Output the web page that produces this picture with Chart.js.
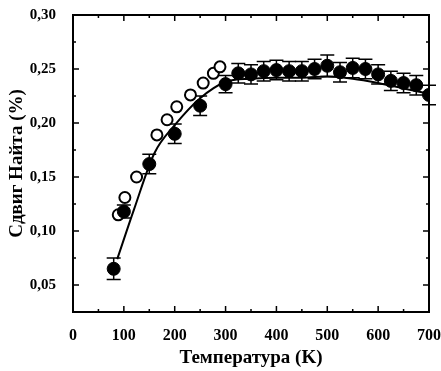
<!DOCTYPE html>
<html>
<head>
<meta charset="utf-8">
<script src="https://cdn.jsdelivr.net/npm/chart.js@4.4.0/dist/chart.umd.min.js"></script>
<style>
  html, body { margin: 0; padding: 0; background: #fff; }
  canvas { display: block; }
</style>
</head>
<body>
<canvas id="chart" width="441" height="371"></canvas>
<script>
// filled circles (with error bars)
const filledT = [80, 100, 150, 200, 250, 300, 325, 350, 375, 400, 425, 450, 475, 500, 525, 550, 575, 600, 625, 650, 675, 700];
const filledV = [0.065, 0.118, 0.162, 0.190, 0.216, 0.236, 0.246, 0.245, 0.248, 0.249, 0.248, 0.248, 0.250, 0.253, 0.247, 0.251, 0.250, 0.245, 0.239, 0.237, 0.235, 0.226];
const filledErr = [0.010, 0.006, 0.009, 0.009, 0.009, 0.008, 0.009, 0.009, 0.009, 0.009, 0.009, 0.009, 0.009, 0.010, 0.009, 0.009, 0.009, 0.009, 0.009, 0.009, 0.009, 0.009];

// open circles
const openT = [89, 102, 125, 165, 185, 204, 231, 256, 276, 289];
const openV = [0.115, 0.131, 0.150, 0.189, 0.203, 0.215, 0.226, 0.237, 0.246, 0.252];

// solid curve
const fitT = [87, 120, 160, 200, 250, 300, 350, 400, 450, 500, 550, 600, 650, 700];
const fitV = [0.074, 0.120, 0.172, 0.198, 0.223, 0.238, 0.241, 0.242, 0.242, 0.243, 0.241, 0.237, 0.232, 0.227];

// axis ticks
const xTicks = [0, 100, 200, 300, 400, 500, 600, 700];
const xMinor = [50, 150, 250, 350, 450, 550, 650];
const yTicks = [0.05, 0.10, 0.15, 0.20, 0.25, 0.30];
const yLabels = ['0,05', '0,10', '0,15', '0,20', '0,25', '0,30'];
const yMinor = [0.075, 0.125, 0.175, 0.225, 0.275];

const toXY = (xs, ys) => xs.map((x, i) => ({ x: x, y: ys[i] }));

// error bars, frame and inward ticks
const decorPlugin = {
    id: 'decor',
    beforeDatasetsDraw(chart) {
        const ctx = chart.ctx;
        const xs = chart.scales.x, ys = chart.scales.y;
        ctx.save();
        ctx.strokeStyle = '#000';
        ctx.lineWidth = 1.5;
        filledT.forEach((t, i) => {
            const px = xs.getPixelForValue(t);
            const top = ys.getPixelForValue(filledV[i] + filledErr[i]);
            const bot = ys.getPixelForValue(filledV[i] - filledErr[i]);
            ctx.beginPath();
            ctx.moveTo(px, top); ctx.lineTo(px, bot);
            ctx.moveTo(px - 7, top); ctx.lineTo(px + 7, top);
            ctx.moveTo(px - 7, bot); ctx.lineTo(px + 7, bot);
            ctx.stroke();
        });
        ctx.restore();
    },
    afterDraw(chart) {
        const ctx = chart.ctx;
        const a = chart.chartArea;
        const xs = chart.scales.x, ys = chart.scales.y;
        ctx.save();
        ctx.strokeStyle = '#000';
        ctx.lineWidth = 2;
        ctx.strokeRect(a.left, a.top, a.right - a.left, a.bottom - a.top);
        ctx.lineWidth = 1.5;
        ctx.beginPath();
        const xt = (v, len) => {
            const px = xs.getPixelForValue(v);
            ctx.moveTo(px, a.bottom); ctx.lineTo(px, a.bottom - len);
            ctx.moveTo(px, a.top); ctx.lineTo(px, a.top + len);
        };
        const yt = (v, len) => {
            const py = ys.getPixelForValue(v);
            ctx.moveTo(a.left, py); ctx.lineTo(a.left + len, py);
            ctx.moveTo(a.right, py); ctx.lineTo(a.right - len, py);
        };
        xTicks.forEach(v => xt(v, 6));
        xMinor.forEach(v => xt(v, 3));
        yTicks.forEach(v => yt(v, 6));
        yMinor.forEach(v => yt(v, 3));
        ctx.stroke();
        ctx.restore();
    }
};

const font = { family: "'Liberation Serif', 'DejaVu Serif', serif", weight: 'bold' };

new Chart(document.getElementById('chart'), {
    type: 'scatter',
    data: {
        datasets: [
            {
                label: 'filled',
                data: toXY(filledT, filledV),
                pointRadius: 6.5,
                pointBackgroundColor: '#000',
                pointBorderColor: '#000',
                pointBorderWidth: 1,
                showLine: false,
                order: 1
            },
            {
                label: 'fit',
                data: toXY(fitT, fitV),
                showLine: true,
                borderColor: '#000',
                borderWidth: 2,
                pointRadius: 0,
                cubicInterpolationMode: 'monotone',
                order: 2
            },
            {
                label: 'open',
                data: toXY(openT, openV),
                pointRadius: 5.5,
                pointBackgroundColor: '#fff',
                pointBorderColor: '#000',
                pointBorderWidth: 2,
                showLine: false,
                order: 3
            }
        ]
    },
    options: {
        responsive: false,
        animation: false,
        layout: { padding: { left: 0, right: 12, top: 15, bottom: 0 } },
        plugins: { legend: { display: false }, tooltip: { enabled: false } },
        scales: {
            x: {
                type: 'linear',
                min: 0,
                max: 700,
                afterFit: (s) => { s.height = 59; s.paddingRight = 0; s.paddingLeft = 0; },
                afterBuildTicks: (s) => { s.ticks = xTicks.map(v => ({ value: v })); },
                grid: { display: false },
                border: { display: false },
                ticks: {
                    color: '#000',
                    font: Object.assign({ size: 16 }, font),
                    padding: 6,
                    maxRotation: 0,
                    callback: (v) => String(v)
                },
                title: {
                    display: true,
                    text: 'Температура (K)',
                    color: '#000',
                    font: Object.assign({ size: 19 }, font),
                    padding: { top: 0, bottom: 2 }
                }
            },
            y: {
                type: 'linear',
                min: 0.025,
                max: 0.30,
                afterFit: (s) => { s.width = 73; s.paddingTop = 0; s.paddingBottom = 0; },
                afterBuildTicks: (s) => { s.ticks = yTicks.map(v => ({ value: v })); },
                grid: { display: false },
                border: { display: false },
                ticks: {
                    color: '#000',
                    font: Object.assign({ size: 15 }, font),
                    padding: 9,
                    callback: (v) => {
                        const i = yTicks.findIndex(t => Math.abs(t - v) < 1e-6);
                        return i >= 0 ? yLabels[i] : '';
                    }
                },
                title: {
                    display: true,
                    text: 'Сдвиг Найта (%)',
                    color: '#000',
                    font: Object.assign({ size: 19 }, font),
                    padding: { top: 6, bottom: 0 }
                }
            }
        }
    },
    plugins: [decorPlugin]
});
</script>
</body>
</html>
